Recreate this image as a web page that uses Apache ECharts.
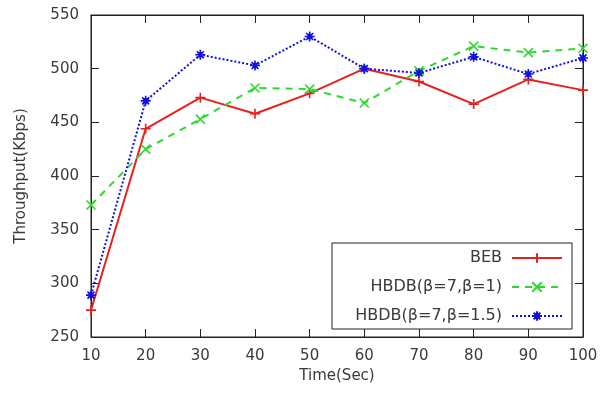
<!DOCTYPE html>
<html><head><meta charset="utf-8">
<script src="https://cdn.jsdelivr.net/npm/echarts@6/dist/echarts.min.js"></script>
<style>html,body{margin:0;padding:0;background:#fff}#c{width:607px;height:399px}</style>
</head><body><div id="c"></div>
<script>
const times = [10,20,30,40,50,60,70,80,90,100];
const yTicks = [250,300,350,400,450,500,550];
const seriesNames = ['BEB','HBDB(β=7,β=1)','HBDB(β=7,β=1.5)'];
const beb = [275,444,473,458,477,500,488,467,490,480];
const hbdb1 = [373,425,453,482,481,468,498,521,515,519];
const hbdb15 = [289,470,513,503,530,500,496,511,495,510];

const FONT = 'DejaVu Sans';
const TXT = '#3a3a3a';
const plusSym = 'path://M0,5L10,5M5,0L5,10';
const xSym = 'path://M0,0L10,10M10,0L0,10';
const starSym = 'path://M0,5L10,5M5,0L5,10M1.5,1.5L8.5,8.5M8.5,1.5L1.5,8.5M2,3L8,3M2,7L8,7';

function mk(name, data, color, type, sym, size) {
  return {
    name, type:'line', data: data.map((v,i)=>[times[i], v]),
    xAxisIndex:0, yAxisIndex:0,
    lineStyle:{color, width:2, type},
    symbol: sym, symbolSize: size, showSymbol:true,
    itemStyle:{color, borderColor:color, borderWidth:1.6},
    emphasis:{disabled:true}, animation:false
  };
}

const chart = echarts.init(document.getElementById('c'), null, {renderer:'canvas'});
const axisLine = {show:true, lineStyle:{color:'#222', width:1}};
const legendCommon = {orient:'vertical', align:'right', itemWidth:50, itemHeight:12, itemGap:0,
  textStyle:{fontFamily:FONT, fontSize:16, color:TXT, padding:[0,5,0,0]}, right:44, selectedMode:false, padding:0};
chart.setOption({
  animation:false,
  grid:{left:91, top:15, right:24, bottom:62, show:true, borderColor:'#222', borderWidth:1},
  xAxis:[
    {type:'value', min:10, max:100, interval:10, position:'bottom',
     name:'Time(Sec)', nameLocation:'middle', nameGap:30,
     nameTextStyle:{fontFamily:FONT, fontSize:15, color:TXT},
     axisLine, axisTick:{show:true, inside:true, length:8, lineStyle:{color:'#222'}},
     axisLabel:{fontFamily:FONT, fontSize:15, color:TXT, margin:12}, splitLine:{show:false}},
    {type:'value', min:10, max:100, interval:10, position:'top',
     axisLine, axisTick:{show:true, inside:true, length:8, lineStyle:{color:'#222'}},
     axisLabel:{show:false}, splitLine:{show:false}}
  ],
  yAxis:[
    {type:'value', min:250, max:550, interval:50, position:'left',
     name:'Throughput(Kbps)', nameLocation:'middle', nameGap:62,
     nameTextStyle:{fontFamily:FONT, fontSize:15, color:TXT},
     axisLine, axisTick:{show:true, inside:true, length:8, lineStyle:{color:'#222'}},
     axisLabel:{fontFamily:FONT, fontSize:15, color:TXT, margin:12}, splitLine:{show:false}},
    {type:'value', min:250, max:550, interval:50, position:'right',
     axisLine, axisTick:{show:true, inside:true, length:8, lineStyle:{color:'#222'}},
     axisLabel:{show:false}, splitLine:{show:false}}
  ],
  graphic:[{type:'rect', shape:{x:332, y:243, width:240, height:86}, z:5,
    style:{fill:'#fff', stroke:'#222', lineWidth:1}}],
  legend:[
    Object.assign({data:[seriesNames[0]], top:250, z:10}, legendCommon),
    Object.assign({data:[seriesNames[1]], top:279, z:10}, legendCommon),
    Object.assign({data:[seriesNames[2]], top:308, z:10}, legendCommon)
  ],
  series:[
    mk(seriesNames[0], beb, '#e8201c', 'solid', plusSym, 10),
    mk(seriesNames[1], hbdb1, '#2ed82e', [7,6], xSym, 9),
    mk(seriesNames[2], hbdb15, '#1010e0', [2,2], starSym, 10)
  ]
});
</script></body></html>
